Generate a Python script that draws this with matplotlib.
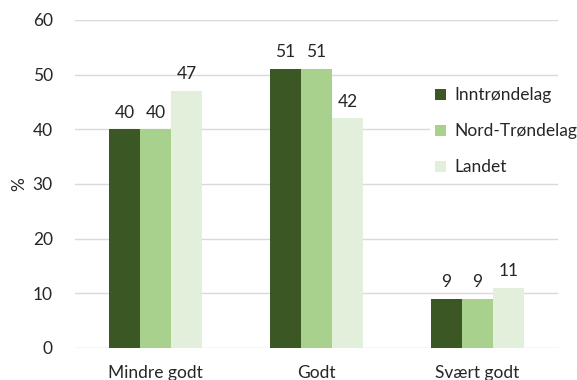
import numpy as np
import matplotlib.pyplot as plt

plt.rcParams['font.family'] = ['Lato', 'DejaVu Sans']

kategorier = ['Mindre godt', 'Godt', 'Svært godt']
serier = ['Inntrøndelag', 'Nord-Trøndelag', 'Landet']
verdier = [
    [40, 51, 9],   # Inntrøndelag
    [40, 51, 9],   # Nord-Trøndelag
    [47, 42, 11],  # Landet
]
farger = ['#3b5724', '#a9d18e', '#e2efda']
tekstfarge = '#262626'
fs = 12.5

fig = plt.figure(figsize=(5.77, 3.80), dpi=100)
ax = fig.add_axes([75 / 577, 32 / 380, 483 / 577, 328 / 380])

x = np.arange(len(kategorier))
bredde = 0.193
for i, (navn, v) in enumerate(zip(serier, verdier)):
    pos = x + (i - 1) * bredde
    ax.bar(pos, v, width=bredde, color=farger[i], label=navn, zorder=2)
    for px, val in zip(pos, v):
        ax.text(px, val + 1.6, str(val), ha='center', va='bottom',
                fontsize=fs, color=tekstfarge)

ax.set_xlim(-0.5, 2.5)
ax.set_ylim(0, 60)
ax.set_yticks(range(0, 61, 10))
ax.set_xticks(x)
ax.set_xticklabels(kategorier)
ax.yaxis.grid(True, color='#d9d9d9', linewidth=1, zorder=0)
ax.set_axisbelow(True)
for s in ax.spines.values():
    s.set_visible(False)
ax.tick_params(axis='both', length=0, labelsize=fs, colors=tekstfarge)
ax.tick_params(axis='x', pad=12)
ax.tick_params(axis='y', pad=16)
ax.set_ylabel('%', fontsize=fs, color=tekstfarge, labelpad=4)

leg = ax.legend(loc='upper left', bbox_to_anchor=(355 / 483, 1 - 62 / 328),
                frameon=True, fontsize=fs, handlelength=0.6, handleheight=0.6,
                handletextpad=0.5, labelspacing=1.15, borderaxespad=0,
                borderpad=0.3)
leg.get_frame().set_edgecolor('none')
leg.get_frame().set_facecolor('white')
leg.get_frame().set_alpha(1)
for t in leg.get_texts():
    t.set_color(tekstfarge)

fig.savefig('out.png', dpi=100)
